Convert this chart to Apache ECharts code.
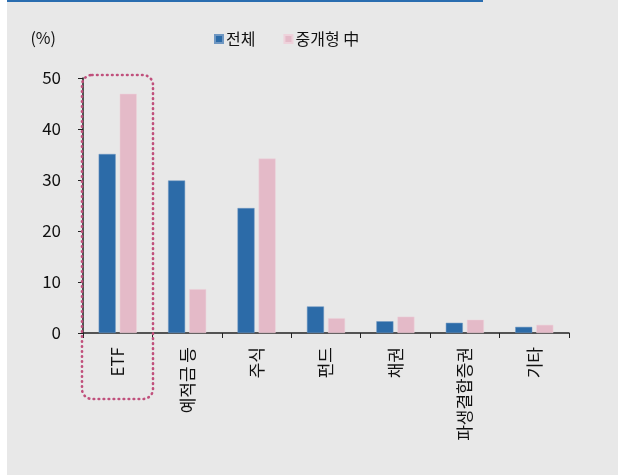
<!DOCTYPE html>
<html>
<head>
<meta charset="utf-8">
<script src="https://cdn.jsdelivr.net/npm/echarts@6/dist/echarts.min.js"></script>
<style>
  html, body { margin: 0; padding: 0; background: #fff; }
  #chart { width: 618px; height: 475px; }
</style>
</head>
<body>
<div id="chart"></div>
<script>
// 항목별 비중 (%)
const categories = ['ETF', '예적금 등', '주식', '펀드', '채권', '파생결합증권', '기타']
const totalValues = [35.1, 29.9, 24.5, 5.2, 2.3, 2.0, 1.2]
const brokerValues = [46.9, 8.6, 34.2, 2.9, 3.2, 2.6, 1.6]
const seriesNames = ['전체', '중개형 中']

const krFont = '"Noto Sans CJK KR", "Noto Sans", sans-serif'

const chart = echarts.init(document.getElementById('chart'))
chart.setOption({
  backgroundColor: '#e8e8e8',
  animation: false,
  textStyle: { fontFamily: krFont },
  legend: {
    left: 209,
    top: 26,
    itemWidth: 8,
    itemHeight: 8,
    itemGap: 28,
    icon: 'rect',
    textStyle: { fontSize: 16, color: '#111', padding: [0, 0, 0, -2] },
    data: seriesNames
  },
  grid: {
    left: 83,
    right: 49,
    top: 78,
    bottom: 142
  },
  xAxis: {
    type: 'category',
    data: categories,
    axisLine: { lineStyle: { color: '#222', width: 1.5 } },
    axisTick: { show: true, length: 5, lineStyle: { color: '#222' } },
    axisLabel: { rotate: 90, fontSize: 17, color: '#111', margin: 14 }
  },
  yAxis: {
    type: 'value',
    min: 0,
    max: 50,
    interval: 10,
    name: '(%)',
    nameLocation: 'end',
    nameGap: 32,
    nameTextStyle: { fontSize: 16, color: '#111', align: 'right', padding: [0, 27, 0, 0] },
    axisLine: { show: true, lineStyle: { color: '#222', width: 1.5 } },
    axisTick: { show: true, length: 5, lineStyle: { color: '#222' } },
    splitLine: { show: false },
    axisLabel: { fontSize: 17, color: '#111', margin: 22 }
  },
  series: [
    {
      name: seriesNames[0],
      type: 'bar',
      data: totalValues,
      barWidth: 17,
      barGap: '24%',
      itemStyle: { color: '#2c6ba8', borderColor: '#6f97c2', borderWidth: 0.5 }
    },
    {
      name: seriesNames[1],
      type: 'bar',
      data: brokerValues,
      barWidth: 17,
      itemStyle: { color: '#e4bac8', borderColor: '#eed2db', borderWidth: 0.5 }
    }
  ],
  graphic: [
    { type: 'rect', left: 0, top: 0, shape: { width: 7, height: 475 }, style: { fill: '#fff' } },
    { type: 'rect', left: 7, top: 0, shape: { width: 476, height: 2 }, style: { fill: '#2a6db0' } },
    {
      type: 'rect',
      z: 10,
      shape: { x: 82, y: 75, width: 71, height: 324, r: 10 },
      style: { fill: 'none', stroke: '#c0507c', lineWidth: 2.6, lineDash: [0.6, 4.4], lineCap: 'round' }
    }
  ]
})
</script>
</body>
</html>
